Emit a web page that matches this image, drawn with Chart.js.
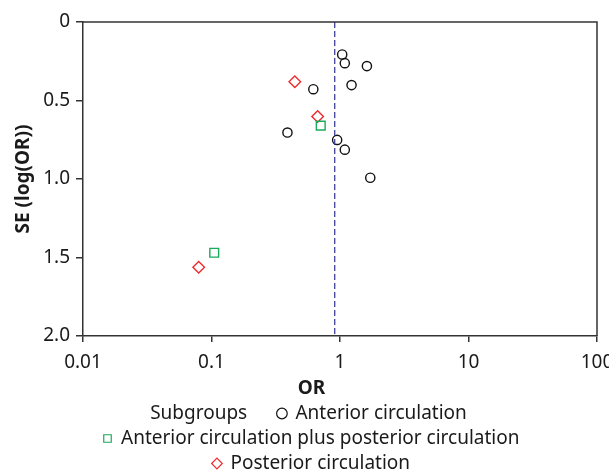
<!DOCTYPE html>
<html>
<head>
<meta charset="utf-8">
<script src="https://cdn.jsdelivr.net/npm/chart.js@4"></script>
<style>
    body { margin: 0; background: #fff; }
    #wrap { width: 609px; height: 472px; position: relative; }
</style>
</head>
<body>
<div id="wrap"><canvas id="funnel"></canvas></div>
<script>
// odds ratio and standard error of log(OR) per study, by subgroup
const anteriorOR = [1.04, 1.09, 1.62, 1.23, 0.62, 0.39, 0.95, 1.09, 1.72];
const anteriorSE = [0.207, 0.262, 0.281, 0.402, 0.428, 0.704, 0.751, 0.813, 0.992];
const combinedOR = [0.708, 0.105];
const combinedSE = [0.66, 1.47];
const posteriorOR = [0.445, 0.67, 0.0795];
const posteriorSE = [0.381, 0.602, 1.562];
// pooled estimate (vertical reference line)
const pooledOR = 0.91;

const orTicks = [0.01, 0.1, 1, 10, 100];
const seTicks = [0, 0.5, 1, 1.5, 2];

const axisColor = '#333';
const textColor = '#1a1a1a';
const fontFamily = '"Noto Sans", "Open Sans", sans-serif';

const toPoints = (xs, ys) => xs.map((x, i) => ({ x: x, y: ys[i] }));

// top and right edge of the plot box
const frame = {
    id: 'frame',
    afterDraw(chart) {
        const { ctx, chartArea: a } = chart;
        ctx.save();
        ctx.strokeStyle = axisColor;
        ctx.lineWidth = 1.5;
        ctx.beginPath();
        ctx.moveTo(a.left, a.top);
        ctx.lineTo(a.right, a.top);
        ctx.lineTo(a.right, a.bottom);
        ctx.stroke();
        ctx.restore();
    }
};

Chart.defaults.font.family = fontFamily;
Chart.defaults.font.size = 19;
Chart.defaults.color = textColor;

new Chart(document.getElementById('funnel'), {
    type: 'scatter',
    data: {
        datasets: [
            {
                type: 'line',
                label: 'Pooled',
                data: [{ x: pooledOR, y: 0 }, { x: pooledOR, y: 2 }],
                borderColor: '#2e3192',
                borderWidth: 1.2,
                borderDash: [6, 3],
                pointRadius: 0,
                fill: false
            },
            {
                label: 'Anterior circulation',
                data: toPoints(anteriorOR, anteriorSE),
                pointStyle: 'circle',
                pointRadius: 4.6,
                borderColor: '#111',
                backgroundColor: 'transparent',
                borderWidth: 1.4
            },
            {
                label: 'Anterior circulation plus posterior circulation',
                data: toPoints(combinedOR, combinedSE),
                pointStyle: 'rect',
                pointRadius: 6.2,
                borderColor: '#1ba95b',
                backgroundColor: 'transparent',
                borderWidth: 1.4
            },
            {
                label: 'Posterior circulation',
                data: toPoints(posteriorOR, posteriorSE),
                pointStyle: 'rectRot',
                pointRadius: 5.8,
                borderColor: '#ee2b2f',
                backgroundColor: 'transparent',
                borderWidth: 1.4
            }
        ]
    },
    options: {
        responsive: true,
        maintainAspectRatio: false,
        animation: false,
        layout: { padding: { left: 14, right: 0, top: 22, bottom: -11 } },
        scales: {
            x: {
                type: 'logarithmic',
                min: 0.01,
                max: 100,
                afterBuildTicks: s => { s.ticks = orTicks.map(v => ({ value: v })); },
                afterFit: s => { s.height = 40; s.paddingRight = 12; },
                ticks: {
                    callback: v => String(v),
                    padding: 9,
                    maxRotation: 0,
                    color: textColor
                },
                grid: { drawOnChartArea: false, tickLength: 6, color: axisColor, lineWidth: 1.5 },
                border: { color: axisColor, width: 1.5 }
            },
            y: {
                type: 'linear',
                reverse: true,
                min: 0,
                max: 2,
                afterBuildTicks: s => { s.ticks = seTicks.map(v => ({ value: v })); },
                afterFit: s => { s.width = 69; },
                ticks: {
                    callback: v => v === 0 ? '0' : v.toFixed(1),
                    padding: 6,
                    color: textColor
                },
                grid: { drawOnChartArea: false, tickLength: 7, color: axisColor, lineWidth: 1.5 },
                border: { color: axisColor, width: 1.5 },
                title: {
                    display: true,
                    text: 'SE (log(OR))',
                    font: { weight: 'bold', size: 19, lineHeight: 1 },
                    color: textColor,
                    padding: { top: 0, bottom: 0 }
                }
            }
        },
        plugins: {
            tooltip: { enabled: false },
            legend: {
                position: 'bottom',
                title: {
                    display: true,
                    text: 'OR',
                    font: { weight: 'bold', size: 19, lineHeight: 1 },
                    color: textColor,
                    padding: { top: 3, bottom: 0 }
                },
                labels: {
                    usePointStyle: true,
                    boxWidth: 8,
                    boxHeight: 7.5,
                    padding: 6,
                    color: textColor,
                    generateLabels: () => [
                        // group heading, no marker
                        { text: 'Subgroups     ', pointStyle: 'circle', fillStyle: 'transparent', strokeStyle: 'transparent', lineWidth: 0 },
                        { text: 'Anterior circulation', pointStyle: 'circle', fillStyle: 'transparent', strokeStyle: '#111', lineWidth: 1.2 },
                        // spacer keeps the first row balanced
                        { text: '', pointStyle: 'circle', fillStyle: 'transparent', strokeStyle: 'transparent', lineWidth: 0 },
                        { text: 'Anterior circulation plus posterior circulation', pointStyle: 'rect', fillStyle: 'transparent', strokeStyle: '#1ba95b', lineWidth: 1.2 },
                        { text: 'Posterior circulation', pointStyle: 'rectRot', fillStyle: 'transparent', strokeStyle: '#ee2b2f', lineWidth: 1.2 }
                    ]
                }
            }
        }
    },
    plugins: [frame]
});
</script>
</body>
</html>
